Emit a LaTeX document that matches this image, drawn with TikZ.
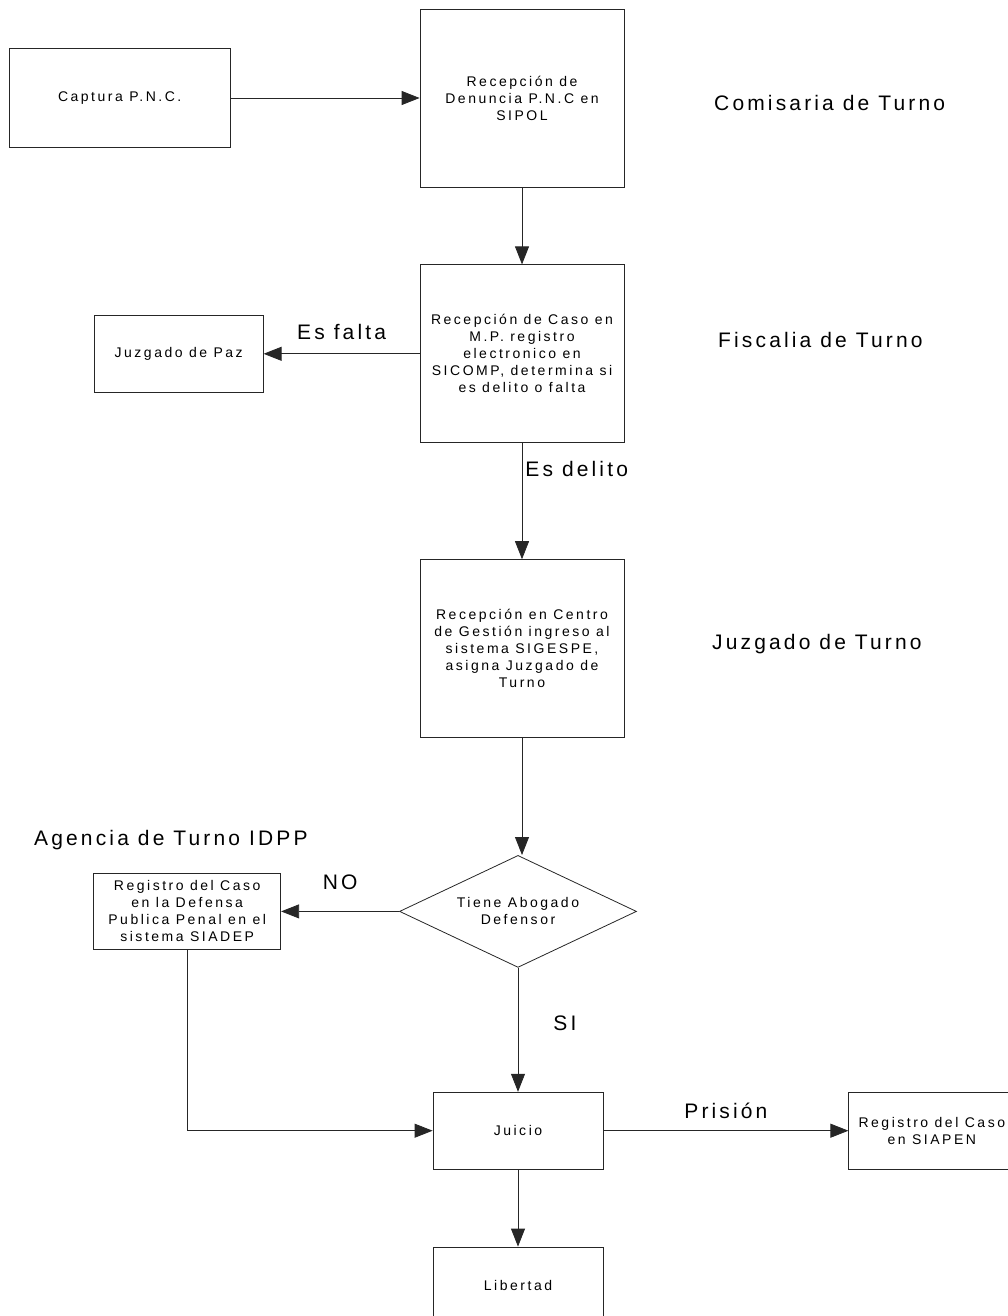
\documentclass[tikz,border=0pt]{standalone}
\usepackage{fontspec}
\setmainfont{Liberation Sans}
\newfontfamily\boxfont[LetterSpace=18]{Liberation Sans}
\newfontfamily\lblfont[LetterSpace=15]{Liberation Sans}
\usetikzlibrary{positioning,shapes.geometric,arrows.meta}

\tikzset{
  proc/.style={draw=black!85, line width=0.8pt, align=center, inner sep=2pt,
    font=\boxfont\fontsize{14}{17}\selectfont},
  tallproc/.style={proc, minimum width=204pt, minimum height=178pt},
  flatproc/.style={proc, minimum width=170pt, minimum height=77pt},
  decision/.style={proc, diamond, aspect=2.1, minimum width=237pt,
    minimum height=112pt, inner sep=0pt},
  lbl/.style={font=\lblfont\fontsize{21}{25}\selectfont, inner sep=0pt},
  conn/.style={draw=black!85, line width=0.8pt,
    -{Triangle[length=18pt,width=14pt]}},
}

\begin{document}
\begin{tikzpicture}[x=1pt, y=-1pt]
  \useasboundingbox (0,0) rectangle (1008,1316);
  % Define nodes
  \node[tallproc] (denuncia) at (522,98) {Recepción de\\Denuncia P.N.C en\\SIPOL}; %
  \node[proc, minimum width=221pt, minimum height=99pt, left=189pt of denuncia] (captura) {Captura P.N.C.}; %
  \node[tallproc, below=77pt of denuncia] (caso) {Recepción de Caso en\\M.P. registro\\electronico en\\SICOMP, determina si\\es delito o falta};
  \node[proc, minimum width=169pt, minimum height=77pt, left=156pt of caso] (paz) {Juzgado de Paz};
  \node[tallproc, below=116pt of caso] (gestion) {Recepción en Centro\\de Gestión ingreso al\\sistema SIGESPE,\\asigna Juzgado de\\Turno};
  \node[decision, below=117pt of gestion, xshift=-4pt] (dec) {Tiene Abogado\\Defensor};
  \node[proc, minimum width=187pt, minimum height=76pt, left=118pt of dec] (idpp) {Registro del Caso\\en la Defensa\\Publica Penal en el\\sistema SIADEP};
  \node[flatproc, below=124pt of dec] (juicio) {Juicio};
  \node[proc, minimum width=166pt, minimum height=77pt, right=245pt of juicio] (siapen) {Registro del Caso\\en SIAPEN};
  \node[flatproc, below=77pt of juicio] (libertad) {Libertad};

  % Office labels
  \node[lbl, anchor=west] (comisaria) at (714,103) {Comisaria de Turno};
  \node[lbl, anchor=west] (fiscalia) at (718,340) {Fiscalia de Turno};
  \node[lbl, anchor=west] (juzgado) at (712,644) {Juzgado de Turno};
  \node[lbl, anchor=west] (agencia) at (34,840) {Agencia de Turno IDPP};

  % Connectors
  \draw[conn] (captura) -- (denuncia);
  \draw[conn] (denuncia) -- (caso);
  \draw[conn] (caso) -- node[lbl, above=14pt] {Es falta} (paz);
  \draw[conn] (caso) -- node[lbl, pos=0.22, right=3pt] {Es delito} (gestion);
  \draw[conn] (gestion.south) -- (gestion.south |- dec.north);
  \draw[conn] (dec) -- node[lbl, above=21pt] {NO} (idpp);
  \draw[conn] (dec) -- node[lbl, right=35pt, yshift=7pt] {SI} (juicio);
  \draw[conn] (idpp) |- (juicio);
  \draw[conn] (juicio) -- node[lbl, above=11.5pt] {Prisión} (siapen);
  \draw[conn] (juicio) -- (libertad);
\end{tikzpicture}
\end{document}
